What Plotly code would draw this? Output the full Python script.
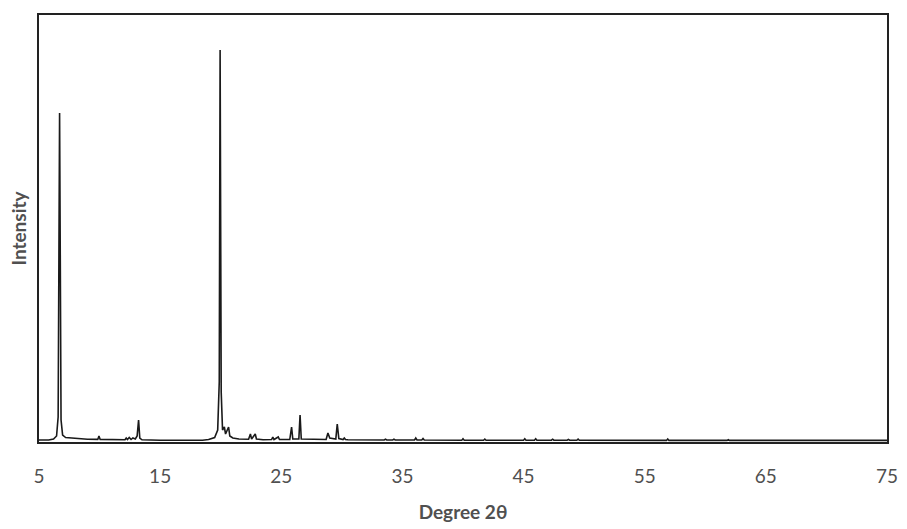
import plotly.graph_objects as go

# Powder XRD pattern: 2-theta (degrees) and intensity (a.u.)
two_theta = [
    5.0, 5.8, 6.2, 6.45, 6.58, 6.7, 6.82, 6.95, 7.2, 8.0, 9.0,
    9.85, 9.95, 10.05, 11.0, 12.1, 12.2, 12.3, 12.45, 12.6, 12.75, 12.95,
    13.1, 13.22, 13.32, 13.5, 15.0, 17.0, 18.5, 19.0, 19.5, 19.75, 19.88,
    19.95, 20.04, 20.15, 20.3, 20.4, 20.65, 20.75, 21.0, 21.5, 22.3, 22.45,
    22.55, 22.85, 22.95, 23.5, 24.2, 24.3, 24.4, 24.75, 24.85, 25.7, 25.85,
    25.95, 26.45, 26.55, 26.65, 28.7, 28.85, 29.0, 29.5, 29.62, 29.75, 30.1,
    30.2, 30.3, 30.5, 33.5, 33.6, 33.7, 34.2, 34.3, 34.4, 36.0, 36.1,
    36.2, 36.6, 36.7, 36.8, 39.9, 40.0, 40.1, 41.7, 41.8, 41.9, 45.0,
    45.1, 45.2, 45.9, 46.0, 46.1, 47.3, 47.4, 47.5, 48.6, 48.7, 48.8,
    49.4, 49.5, 49.6, 52.0, 56.8, 56.9, 57.0, 61.8, 61.9, 62.0, 68.0,
    75.0,
]
intensity = [
    20, 20, 30, 60, 250, 3290, 220, 70, 45, 35, 28,
    26, 60, 26, 22, 22, 40, 25, 45, 25, 40, 30,
    60, 220, 40, 22, 18, 15, 18, 25, 45, 120, 600,
    3920, 500, 120, 150, 80, 150, 60, 40, 30, 28, 80,
    30, 80, 30, 22, 25, 50, 25, 50, 25, 25, 150,
    30, 30, 270, 30, 25, 90, 40, 30, 180, 35, 25,
    40, 25, 22, 20, 28, 20, 20, 28, 20, 20, 40,
    20, 20, 35, 20, 18, 32, 18, 18, 30, 18, 18,
    32, 18, 18, 32, 18, 18, 28, 18, 18, 26, 18,
    18, 30, 18, 16, 16, 30, 16, 16, 24, 16, 16,
    16,
]

x_ticks = [5, 15, 25, 35, 45, 55, 65, 75]

fig = go.Figure(
    go.Scatter(
        x=two_theta,
        y=intensity,
        mode="lines",
        line=dict(color="#1a1a1a", width=1.6),
        hoverinfo="skip",
    )
)

font_family = "Lato, 'Open Sans', sans-serif"
grey = "#505050"

fig.update_layout(
    width=907,
    height=529,
    margin=dict(l=39, r=20, t=15, b=87),
    paper_bgcolor="white",
    plot_bgcolor="white",
    showlegend=False,
    font=dict(family=font_family, color=grey),
    xaxis=dict(
        range=[5, 75],
        automargin=False,
        tickmode="array",
        tickvals=x_ticks,
        ticktext=[str(t) for t in x_ticks],
        showgrid=False,
        zeroline=False,
        showline=True,
        linecolor="#222222",
        linewidth=1.5,
        mirror=True,
        ticks="",
        ticklabelstandoff=16,
        tickfont=dict(size=19, color=grey, family=font_family),
        title=dict(
            text="<b>Degree 2θ</b>",
            font=dict(size=19, color=grey, family=font_family),
            standoff=20,
        ),
    ),
    yaxis=dict(
        range=[0, 4270],
        automargin=False,
        showticklabels=False,
        showgrid=False,
        zeroline=False,
        showline=True,
        linecolor="#222222",
        linewidth=1.5,
        mirror=True,
        ticks="",
        title=dict(
            text="<b>Intensity</b>",
            font=dict(size=19, color=grey, family=font_family),
            standoff=6,
        ),
    ),
)

fig.write_html("out.html")
